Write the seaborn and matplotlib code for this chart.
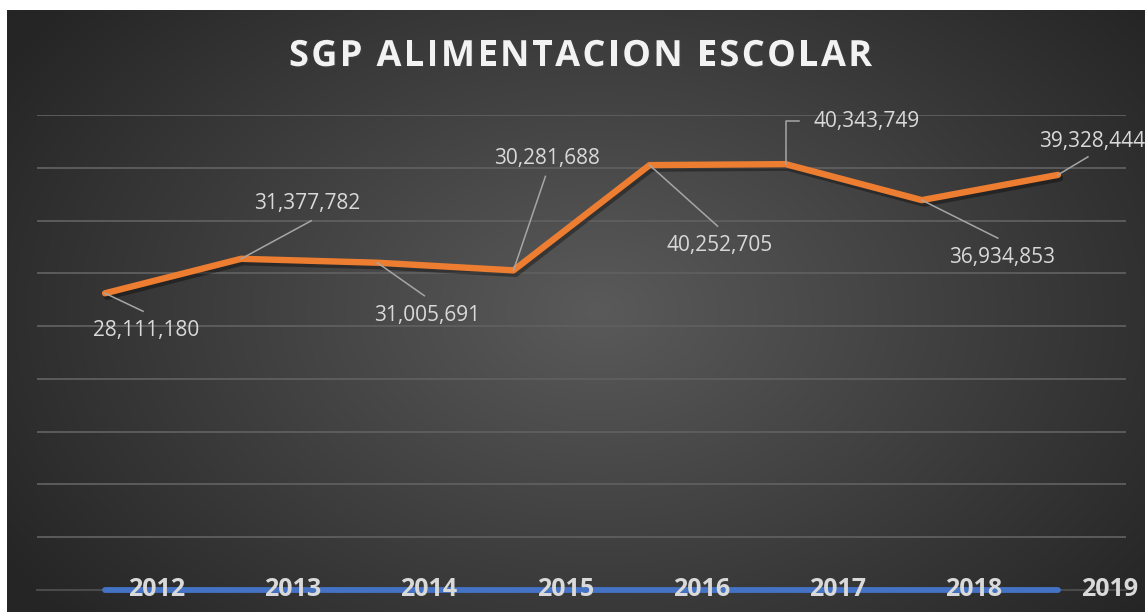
import numpy as np
import pandas as pd
import matplotlib
matplotlib.use("Agg")
import matplotlib.pyplot as plt
import matplotlib.patheffects as pe
import seaborn as sns

years = ["2012", "2013", "2014", "2015", "2016", "2017", "2018", "2019"]
values = [28111180, 31377782, 31005691, 30281688, 40252705, 40343749, 36934853, 39328444]
year_series = [2012, 2013, 2014, 2015, 2016, 2017, 2018, 2019]
labels = ["28,111,180", "31,377,782", "31,005,691", "30,281,688",
          "40,252,705", "40,343,749", "36,934,853", "39,328,444"]
title = "SGP ALIMENTACION ESCOLAR"

W, H = 1145, 612
fig = plt.figure(figsize=(W / 100, H / 100), dpi=100, facecolor="white")

# background with radial gradient
bg = fig.add_axes([7 / W, 0, 1 - 7 / W, 1 - 10 / H])
bg.set_axis_off()
gx = np.linspace(0, 1, 400)
gy = np.linspace(0, 1, 220)
X, Y = np.meshgrid(gx, gy)
r = np.sqrt(((X - 0.52) / 0.62) ** 2 + ((Y - 0.5) / 0.8) ** 2)
r = np.clip(r, 0, 1)
c_in = np.array([0x5a, 0x5a, 0x5a]) / 255
c_out = np.array([0x25, 0x25, 0x25]) / 255
img = c_in[None, None, :] * (1 - r[..., None]) + c_out[None, None, :] * r[..., None]
bg.imshow(img, aspect="auto", extent=[0, 1, 0, 1], origin="lower")
bg.set_xlim(0, 1)
bg.set_ylim(0, 1)

ax = fig.add_axes([37 / W, 22 / H, (1126 - 37) / W, (590 - 115) / H])
ax.patch.set_alpha(0)
for s in ax.spines.values():
    s.set_visible(False)

df = pd.DataFrame({"x": np.arange(len(years)), "valor": values, "anio": year_series})

ax.set_ylim(0, 45e6)
ax.set_xlim(-0.5, 7.5)
for yv in np.arange(5e6, 45e6 + 1, 5e6):
    ax.axhline(yv, color="#5f5f5f", lw=1.3, zorder=1)
ax.axhline(0, color="#4a4a4a", lw=1.5, zorder=1, clip_on=False)

sns.lineplot(data=df, x="x", y="anio", ax=ax, color="#4472C4", lw=4.2,
             solid_capstyle="round", zorder=3, clip_on=False)
sns.lineplot(data=df, x="x", y="valor", ax=ax, color="#ED7D31", lw=4.6,
             solid_capstyle="round", solid_joinstyle="round", zorder=4,
             path_effects=[pe.SimpleLineShadow(offset=(1.5, -2.5), alpha=0.35, shadow_color="black"),
                           pe.Normal()])

ax.set_xticks([])
ax.set_yticks([])
ax.set_xlabel("")
ax.set_ylabel("")
for i, yr in enumerate(years):
    ax.text(i + 0.38, 0, yr, ha="center", va="center", fontsize=18, fontweight="bold",
            color="#d9d9d9", fontfamily="Open Sans", zorder=6, clip_on=False)

# label offsets (pixels): text center, leader path
text_off = [(41, -37), (66, 55), (50, -53), (34, 112), (70, -80), (81, 43), (80, -57), (34, 33)]
leader = [[(38, -18)], [(70, 38)], [(47, -33)], [(32, 94)], [(68, -61)],
          [(0, 43), (13, 43)], [(76, -38)], [(30, 18)]]
fig.canvas.draw()
for i, v in enumerate(values):
    px0, py0 = ax.transData.transform((i, v))
    pts = [(0, 0)] + leader[i]
    xs = [px0 + p[0] for p in pts]
    ys = [py0 + p[1] for p in pts]
    ax.plot(xs, ys, transform=None, color="#a6a6a6", lw=1.1, zorder=5)
    ax.annotate(labels[i], xy=(i, v), xytext=text_off[i], textcoords="offset pixels",
                ha="center", va="center", fontsize=15, color="#d9d9d9",
                fontfamily="Open Sans", annotation_clip=False, zorder=6)

# title with letter spacing
renderer = fig.canvas.get_renderer()
tsize = 26
widths = []
for ch in title:
    if ch == " ":
        t = fig.text(0, 0, "a a", fontsize=tsize, fontweight="bold", fontfamily="Open Sans")
        t2 = fig.text(0, 0, "aa", fontsize=tsize, fontweight="bold", fontfamily="Open Sans")
        w = t.get_window_extent(renderer).width - t2.get_window_extent(renderer).width
        t.remove(); t2.remove()
    else:
        t = fig.text(0, 0, ch, fontsize=tsize, fontweight="bold", fontfamily="Open Sans")
        w = t.get_window_extent(renderer).width
        t.remove()
    widths.append(w)
target = 583
spacing = (target - sum(widths)) / (len(title) - 1)
xcur = 289
ycen = H - 57
for ch, w in zip(title, widths):
    if ch != " ":
        fig.text(xcur, ycen, ch, transform=None, ha="left", va="center", fontsize=tsize,
                 fontweight="bold", color="#f2f2f2", fontfamily="Open Sans",
                 path_effects=[pe.withSimplePatchShadow(offset=(1, -1), alpha=0.4)])
    xcur += w + spacing

fig.savefig("out.png", dpi=100, facecolor="white")
